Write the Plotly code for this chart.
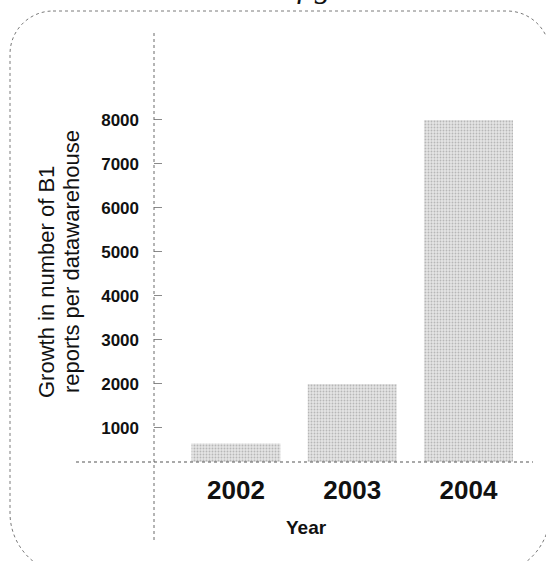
import plotly.graph_objects as go

# ---- data ----
years = ["2002", "2003", "2004"]
growth = [650, 2000, 8000]
y_tick_values = [1000, 2000, 3000, 4000, 5000, 6000, 7000, 8000]
y_tick_labels = ["1000", "2000", "3000", "4000", "5000", "6000", "7000", "8000"]
y_title_lines = ["Growth in number of B1", "reports per datawarehouse"]
x_title = "Year"

W, H = 546, 561


def px(x):
    return x / W


def py(y):
    return 1 - y / H


SANS = "Liberation Sans, Arial, sans-serif"

fig = go.Figure()
fig.add_trace(go.Bar(
    x=years, y=growth,
    marker=dict(
        color="#dadada",
        line=dict(width=0),
        pattern=dict(shape=".", fgcolor="#8a8a8a", bgcolor="#e4e4e4", size=3, solidity=0.3),
    ),
    showlegend=False,
))

# rounded dotted frame
L, R, T, B = 10, 550, 11, 575
rt, rb = 43, 62
k = 0.5523


def P(x, y):
    return f"{px(x):.5f},{py(y):.5f}"


path = (
    f"M {P(L + rt, T)} L {P(R - rt, T)} "
    f"C {P(R - rt + k * rt, T)} {P(R, T + rt - k * rt)} {P(R, T + rt)} "
    f"L {P(R, B - rb)} "
    f"C {P(R, B - rb + k * rb)} {P(R - rb + k * rb, B)} {P(R - rb, B)} "
    f"L {P(L + rb, B)} "
    f"C {P(L + rb - k * rb, B)} {P(L, B - rb + k * rb)} {P(L, B - rb)} "
    f"L {P(L, T + rt)} "
    f"C {P(L, T + rt - k * rt)} {P(L + rt - k * rt, T)} {P(L + rt, T)} Z"
)

shapes = [
    dict(type="path", xref="paper", yref="paper", path=path,
         line=dict(color="#7a7a7a", width=1, dash="dot"), layer="above"),
    # y axis line (extends beyond plot area)
    dict(type="line", xref="paper", yref="paper", x0=px(154), x1=px(154), y0=py(33), y1=py(540),
         line=dict(color="#6a6a6a", width=1, dash="dot")),
    # x axis line
    dict(type="line", xref="paper", yref="paper", x0=px(76), x1=px(533), y0=py(462), y1=py(462),
         line=dict(color="#555555", width=1.2, dash="dot")),
]

annotations = [
    dict(text=y_title_lines[0], x=px(46), y=py(282), xref="paper", yref="paper",
         textangle=-90, showarrow=False, font=dict(family=SANS, size=22, color="#111"),
         xanchor="center", yanchor="middle"),
    dict(text=y_title_lines[1], x=px(71), y=py(262), xref="paper", yref="paper",
         textangle=-90, showarrow=False, font=dict(family=SANS, size=22, color="#111"),
         xanchor="center", yanchor="middle"),
    dict(text=x_title, x=px(306), y=py(527), xref="paper", yref="paper",
         showarrow=False, font=dict(family=SANS, size=19, color="#111", weight="bold"),
         xanchor="center", yanchor="middle"),
    dict(text="<i>fig</i>", x=px(314), y=py(6), xref="paper", yref="paper",
         showarrow=False, font=dict(family="Liberation Serif, serif", size=32, color="#111"),
         xanchor="center", yanchor="bottom"),
]

fig.update_layout(
    width=W, height=H,
    margin=dict(l=0, r=0, t=0, b=0, pad=0),
    paper_bgcolor="white", plot_bgcolor="white",
    bargap=0.234,
    shapes=shapes,
    annotations=annotations,
    xaxis=dict(
        domain=[px(154), px(533)],
        range=[-0.705, 2.555],
        type="category",
        showline=False, showgrid=False, zeroline=False, ticks="",
        tickfont=dict(family=SANS, size=26, color="#111", weight="bold"),
        ticklabelstandoff=10,
    ),
    yaxis=dict(
        domain=[py(462), py(33)],
        range=[227, 9977],
        tickvals=y_tick_values, ticktext=y_tick_labels,
        showline=False, showgrid=False, zeroline=False,
        ticks="inside", ticklen=8, tickcolor="#8a8a8a", tickwidth=1,
        tickfont=dict(family=SANS, size=17, color="#111", weight="bold"),
        ticklabelstandoff=14,
    ),
)

fig.write_html("out.html", config={"displayModeBar": False},
               post_script="document.body.style.margin='0px';")
